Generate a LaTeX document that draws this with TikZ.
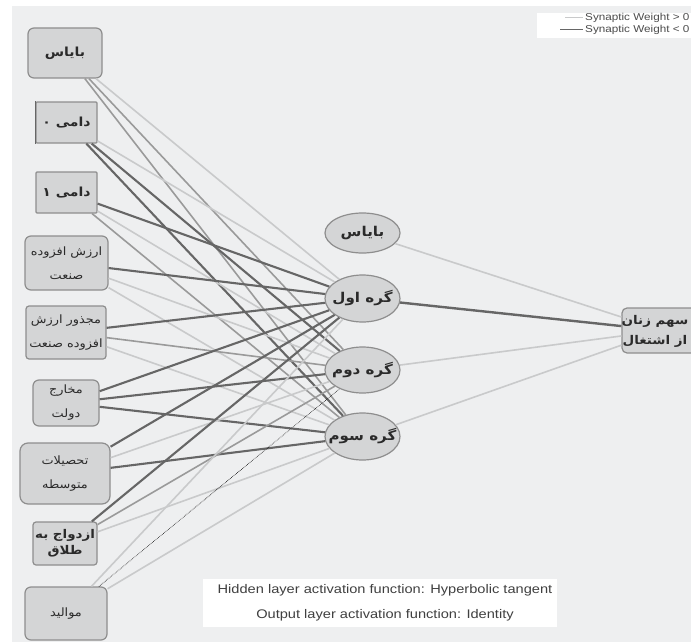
\documentclass[tikz,border=0pt]{standalone}
\usepackage{fontspec}
\setmainfont{Liberation Sans}[FakeStretch=1.17]
\newfontfamily\arabicfont[Script=Arabic, FakeStretch=1.12]{DejaVu Sans}
\TeXXeTstate=1
\usetikzlibrary{shapes.geometric}
\definecolor{bgc}{HTML}{EEEFF0}
\definecolor{nodefill}{HTML}{D4D5D6}
\definecolor{nodeborder}{HTML}{8E8E8E}
\definecolor{wlight}{HTML}{C9CACB}
\definecolor{wmed}{HTML}{9A9A9A}
\definecolor{wdark}{HTML}{666666}
\definecolor{txt}{HTML}{2A2A2A}
\newcommand{\ar}[1]{{\arabicfont\beginR #1\endR}}
\newcommand{\hidlabel}[1]{\makebox[0pt]{\ar{#1}}}
\tikzset{
  inbox/.style={draw=nodeborder, fill=nodefill, line width=1.2pt, rounded corners=6pt,
    inner sep=0pt, align=center, text=txt},
  hid/.style={ellipse, draw=nodeborder, fill=nodefill, line width=1.2pt, inner sep=0pt,
    minimum width=75pt, text=txt, font=\arabicfont\bfseries\fontsize{13.5}{16}\selectfont},
  big/.style={font=\arabicfont\bfseries\fontsize{12.5}{14}\selectfont},
  small/.style={font=\arabicfont\fontsize{11.5}{24}\selectfont},
  wpos/.style={draw=wlight, line width=1.6pt},
  wmid/.style={draw=wmed, line width=1.6pt},
  wneg/.style={draw=wdark, line width=2.1pt},
  wdot/.style={draw=black, line width=0.6pt, densely dotted},
  caption/.style={font=\fontsize{12.5}{13}\selectfont, text=black!75},
  legend/.style={font=\fontsize{10}{11}\selectfont, text=black!70, anchor=west, inner sep=0pt}
}
\begin{document}
\begin{tikzpicture}[x=1pt,y=-1pt]
\clip (0,0) rectangle (691,642);
\fill[white] (0,0) rectangle (691,642);
\fill[bgc] (12,6) rectangle (691,642);
% legend
\fill[white] (537,13) rectangle (691,38);
\draw[wlight, line width=1pt] (565,18) -- (583,18);
\draw[wdark, line width=1pt] (560,30) -- (583,30);
\node[legend] (lg1) at (585,18) {Synaptic Weight > 0};
\node[legend] (lg2) at (585,30) {Synaptic Weight < 0};
% caption
\fill[white] (203,579) rectangle (557,627);
\node[caption] (cap1) at (385,590) {Hidden layer activation function: Hyperbolic tangent};
\node[caption] (cap2) at (385,615) {Output layer activation function: Identity};
% input nodes
\node[inbox, big, minimum width=74pt, minimum height=50pt] (i1) at (65,53) {\ar{بایاس}};
\node[inbox, big, rounded corners=1pt, minimum width=61pt, minimum height=41pt] (i2) at (66.5,122.5) {\ar{دامی ۰}};
\draw[wdark, line width=1.6pt] (i2.north west) -- (i2.south west);
\node[inbox, big, rounded corners=1pt, minimum width=61pt, minimum height=41pt] (i3) at (66.5,192.5) {\ar{دامی ۱}};
\node[inbox, small, minimum width=83pt, minimum height=54pt] (i4) at (66.5,263) {\ar{ارزش افزوده}\\\ar{صنعت}};
\node[inbox, small, rounded corners=3pt, minimum width=80pt, minimum height=53pt] (i5) at (66,332.5) {\ar{مجذور ارزش}\\\ar{افزوده صنعت}};
\node[inbox, small, minimum width=66pt, minimum height=46pt] (i6) at (66,403) {\ar{مخارج}\\\ar{دولت}};
\node[inbox, small, rounded corners=8pt, minimum width=90pt, minimum height=61pt] (i7) at (65,473.5) {\ar{تحصیلات}\\\ar{متوسطه}};
\node[inbox, rounded corners=3pt, minimum width=64pt, minimum height=43pt, font=\arabicfont\bfseries\fontsize{12}{16}\selectfont] (i8) at (65,543.5) {\ar{ازدواج به}\\\ar{طلاق}};
\node[inbox, small, minimum width=82pt, minimum height=53pt] (i9) at (66,613.5) {\ar{موالید}};
% hidden nodes
\node[hid, minimum height=40pt] (hb) at (362.5,233) {\hidlabel{بایاس}};
\node[hid, minimum height=47pt] (h1) at (362.5,298.5) {\hidlabel{گره اول}};
\node[hid, minimum height=46pt] (h2) at (362.5,370) {\hidlabel{گره دوم}};
\node[hid, minimum height=47pt] (h3) at (362.5,436.5) {\hidlabel{گره سوم}};
% output node (box runs past the right edge, as in the source)
\node[inbox, rounded corners=5pt, minimum width=82pt, minimum height=45pt] (o1) at (663,330.5) {};
\node[align=center, inner sep=0pt, text=txt, font=\arabicfont\bfseries\fontsize{12}{20}\selectfont] (o1t) at (655,331) {\ar{سهم زنان}\\\ar{از اشتغال}};
% connectors input -> hidden
\draw[wpos] (i1) -- (h1); \draw[wmid] (i1) -- (h2); \draw[wmid] (i1) -- (h3);
\draw[wpos] (i2) -- (h1); \draw[wneg] (i2) -- (h2); \draw[wneg] (i2) -- (h3);
\draw[wneg] (i3) -- (h1); \draw[wpos] (i3) -- (h2); \draw[wmid] (i3) -- (h3);
\draw[wneg] (i4) -- (h1); \draw[wpos] (i4) -- (h2); \draw[wpos] (i4) -- (h3);
\draw[wneg] (i5) -- (h1); \draw[wmid] (i5) -- (h2); \draw[wpos] (i5) -- (h3);
\draw[wneg] (i6) -- (h1); \draw[wneg] (i6) -- (h2); \draw[wneg] (i6) -- (h3);
\draw[wneg] (i7) -- (h1); \draw[wpos] (i7) -- (h2); \draw[wneg] (i7) -- (h3);
\draw[wneg] (i8) -- (h1); \draw[wmid] (i8) -- (h2); \draw[wpos] (i8) -- (h3);
\draw[wpos] (i9) -- (h1); \draw[wdot] (i9) -- (h2); \draw[wpos] (i9) -- (h3);
% hidden -> output
\draw[wpos] (hb) -- (o1);
\draw[wneg, line width=2.4pt] (h1) -- (o1);
\draw[wpos] (h2) -- (o1);
\draw[wpos] (h3) -- (o1);
\end{tikzpicture}
\end{document}
